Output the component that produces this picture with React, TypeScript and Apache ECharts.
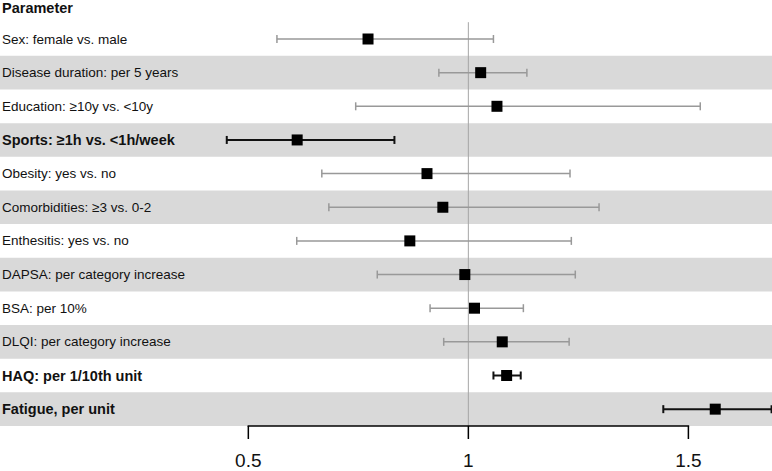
import React, { useEffect, useRef } from "react";
import * as echarts from "echarts";

const labels = [
  "Sex: female vs. male",
  "Disease duration: per 5 years",
  "Education: ≥10y vs. <10y",
  "Sports: ≥1h vs. <1h/week",
  "Obesity: yes vs. no",
  "Comorbidities: ≥3 vs. 0-2",
  "Enthesitis: yes vs. no",
  "DAPSA: per category increase",
  "BSA: per 10%",
  "DLQI: per category increase",
  "HAQ: per 1/10th unit",
  "Fatigue, per unit",
];
const estimate = [0.772, 1.028, 1.065, 0.611, 0.906, 0.942, 0.867, 0.992, 1.014, 1.077, 1.087, 1.561];
const lower = [0.565, 0.933, 0.744, 0.451, 0.667, 0.683, 0.61, 0.793, 0.913, 0.944, 1.057, 1.443];
const upper = [1.057, 1.133, 1.527, 0.832, 1.231, 1.297, 1.234, 1.243, 1.125, 1.229, 1.119, 1.689];
const significant = [0, 0, 0, 1, 0, 0, 0, 0, 0, 0, 1, 1];
const headerText = "Parameter";
const tickValues = [0.5, 1, 1.5];
const tickLabels = ["0.5", "1", "1.5"];

const FONT = "'Liberation Sans', Arial, Helvetica, sans-serif";

export default function App() {
  const ref = useRef<HTMLDivElement>(null);
  useEffect(() => {
    if (!ref.current) return;
    const chart = echarts.init(ref.current, null, { renderer: "svg" });
    const rows = labels.map((l, i) => [i, estimate[i], lower[i], upper[i], significant[i]]);
    const axisRow = labels.length - 0.5;
    const option: any = {
      animation: false,
      grid: [{ left: 0, top: 0, width: 772, height: 471 }],
      xAxis: [{ type: "value", min: -0.0643, max: 1.69, show: false }],
      yAxis: [{ type: "value", inverse: true, min: -1.159, max: 12.838, show: false }],
      graphic: [
        {
          type: "text",
          left: 2,
          top: 0,
          style: {
            text: headerText,
            fontSize: 14.5,
            fontWeight: "bold",
            fontFamily: FONT,
            fill: "#111",
          },
        },
      ],
      series: [
        {
          type: "custom",
          z: 1,
          silent: true,
          data: rows,
          renderItem: (params: any, api: any) => {
            const i = api.value(0);
            if (i % 2 === 0) return null;
            const cs = params.coordSys;
            const top = api.coord([0, i - 0.5])[1];
            const bot = api.coord([0, i + 0.5])[1];
            return {
              type: "rect",
              shape: { x: cs.x, y: top, width: cs.width, height: bot - top },
              style: { fill: "#d9d9d9" },
            };
          },
        },
        {
          type: "line",
          z: 2,
          silent: true,
          symbol: "none",
          data: [
            [1, -0.5],
            [1, axisRow],
          ],
          lineStyle: { color: "#a6a6a6", width: 1 },
        },
        {
          type: "custom",
          z: 3,
          silent: true,
          data: rows,
          renderItem: (params: any, api: any) => {
            const i = api.value(0);
            const sig = api.value(4) === 1;
            const c = api.coord([api.value(1), i]);
            const lo = api.coord([api.value(2), i]);
            const hi = api.coord([api.value(3), i]);
            const color = sig ? "#111" : "#999";
            const lw = sig ? 2 : 1.5;
            const cap = 4;
            const s = 11;
            return {
              type: "group",
              children: [
                {
                  type: "text",
                  x: 2,
                  y: c[1],
                  style: {
                    text: labels[i],
                    fontSize: sig ? 14.5 : 13.5,
                    fontWeight: sig ? "bold" : "normal",
                    fontFamily: FONT,
                    fill: "#111",
                    verticalAlign: "middle",
                    align: "left",
                  },
                },
                {
                  type: "line",
                  shape: { x1: lo[0], y1: lo[1], x2: hi[0], y2: hi[1] },
                  style: { stroke: color, lineWidth: lw },
                },
                {
                  type: "line",
                  shape: { x1: lo[0], y1: lo[1] - cap, x2: lo[0], y2: lo[1] + cap },
                  style: { stroke: color, lineWidth: lw },
                },
                {
                  type: "line",
                  shape: { x1: hi[0], y1: hi[1] - cap, x2: hi[0], y2: hi[1] + cap },
                  style: { stroke: color, lineWidth: lw },
                },
                {
                  type: "rect",
                  shape: { x: c[0] - s / 2, y: c[1] - s / 2, width: s, height: s },
                  style: { fill: "#000" },
                },
              ],
            };
          },
        },
        {
          type: "custom",
          z: 4,
          silent: true,
          clip: false,
          data: tickValues.map((v, k) => [v, k]),
          renderItem: (params: any, api: any) => {
            const k = api.value(1);
            const p = api.coord([api.value(0), axisRow]);
            const children: any[] = [
              {
                type: "line",
                shape: { x1: p[0], y1: p[1], x2: p[0], y2: p[1] + 13 },
                style: { stroke: "#000", lineWidth: 1.5 },
              },
              {
                type: "text",
                x: p[0],
                y: p[1] + 35,
                style: {
                  text: tickLabels[k],
                  fontSize: 19,
                  fontFamily: FONT,
                  fill: "#111",
                  align: "center",
                  verticalAlign: "middle",
                },
              },
            ];
            if (k === 0) {
              const a = api.coord([tickValues[0], axisRow]);
              const b = api.coord([tickValues[tickValues.length - 1], axisRow]);
              children.push({
                type: "line",
                shape: { x1: a[0] - 0.75, y1: a[1], x2: b[0] + 0.75, y2: b[1] },
                style: { stroke: "#000", lineWidth: 1.5 },
              });
            }
            return { type: "group", children };
          },
        },
      ],
    };
    chart.setOption(option);
    return () => chart.dispose();
  }, []);
  return (
    <div
      ref={ref}
      style={{ position: "fixed", left: 0, top: 0, width: 772, height: 471, background: "#fff" }}
    />
  );
}
